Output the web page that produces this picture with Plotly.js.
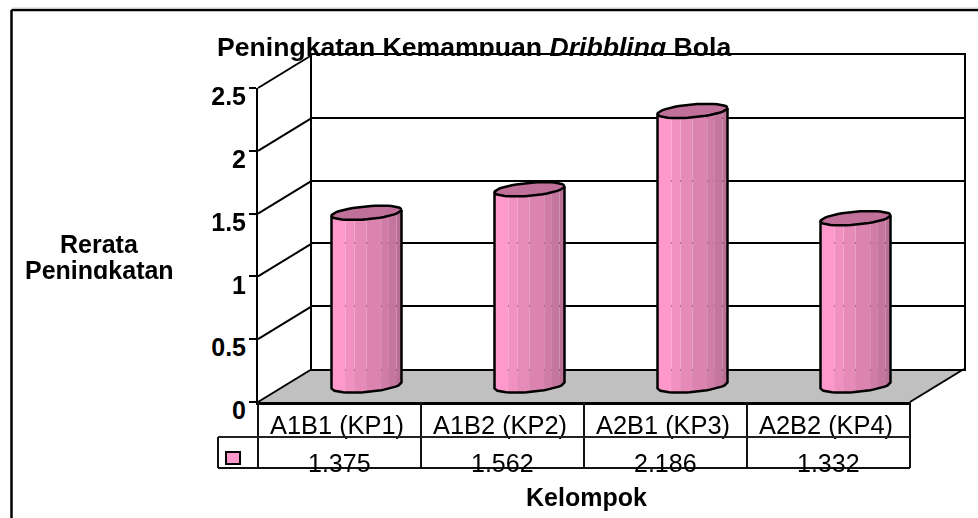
<!DOCTYPE html>
<html><head><meta charset="utf-8">
<script src="https://cdn.plot.ly/plotly-3.0.0.min.js"></script>
<style>html,body{margin:0;padding:0;background:#fff}#chart{width:978px;height:518px}</style>
</head><body><div id="chart"></div>
<script>
const categories = ["A1B1 (KP1)", "A1B2 (KP2)", "A2B1 (KP3)", "A2B2 (KP4)"];
const values = [1.375, 1.562, 2.186, 1.332];
const yTicks = [0, 0.5, 1, 1.5, 2, 2.5];
const yTickLabels = ["0", "0.5", "1", "1.5", "2", "2.5"];

const W = 978, H = 518;
const px = x => x / W, py = y => 1 - y / H;
const FONT = '"Liberation Sans", Arial, sans-serif';
// band edges across a cylinder (0 = left, 1 = right) and their colours
const bandEdges = [0, .2, .33, .5, .71, .82, .93, 1];
const bandColors = ['#FF99CC', '#F191C1', '#E68BB8', '#DB84AF', '#CF7CA6', '#C5769E', '#B96E93'];
const capColor = '#C1709A';

// pixel geometry of the pseudo-3D box
const fx0 = 258, fx1 = 910, fy0 = 402, fy1 = 88, dx = 54, dy = 33;
const pxPerUnit = (fy0 - fy1) / 2.5, pxPerCat = (fx1 - fx0) / 4;
const halfW = 35 / pxPerCat, tilt = 3 / pxPerUnit, bh = 6.5 / pxPerUnit;
const yRange = [0, 2.5], xRange = [-0.5, 3.5], belowZero = -0.15;
const idx = categories.map((_, i) => i);

function ghost(xa, ya) {
  return {type: 'scatter', x: categories, y: values, xaxis: xa, yaxis: ya, mode: 'markers', opacity: 0, hoverinfo: 'skip', showlegend: false};
}
const traces = [ghost('x', 'y')];

// shaded cylinder bodies
bandColors.forEach((color, k) => {
  const uL = 2 * bandEdges[k] - 1, uR = 2 * bandEdges[k + 1] - 1, uM = (uL + uR) / 2;
  traces.push({
    type: 'bar', x: idx, y: values, base: values.map(() => tilt * uM),
    xaxis: 'x2', yaxis: 'y2', width: (uR - uL) * halfW, offset: uL * halfW,
    marker: {color: color, line: {width: 0}}, cliponaxis: false, hoverinfo: 'skip', showlegend: false
  });
  // lower rounded end of each band
  const xs = [], ys = [];
  values.forEach((v, i) => {
    let first = null;
    for (let s = 0; s <= 8; s++) {
      const u = uL + (uR - uL) * s / 8;
      const yy = tilt * u - bh * Math.sqrt(Math.max(0, 1 - u * u));
      if (s === 0) first = yy;
      xs.push(i + u * halfW);
      ys.push(yy);
    }
    xs.push(i + uR * halfW, i + uL * halfW, i + uL * halfW, null);
    ys.push(tilt + bh, tilt + bh, first, null);
  });
  traces.push({type: 'scatter', mode: 'lines', x: xs, y: ys, xaxis: 'x2', yaxis: 'y2', fill: 'toself', fillcolor: color, line: {width: 0}, cliponaxis: false, hoverinfo: 'skip', showlegend: false});
});
// tops and outlines
const capX = [], capY = [], outX = [], outY = [];
values.forEach((v, i) => {
  for (let s = 0; s <= 48; s++) {
    const t = 2 * Math.PI * s / 48;
    capX.push(i + halfW * Math.cos(t));
    capY.push(v + tilt * Math.cos(t) + bh * Math.sin(t));
  }
  capX.push(null); capY.push(null);
  outX.push(i - halfW); outY.push(v - tilt);
  for (let s = 0; s <= 24; s++) {
    const u = -1 + 2 * s / 24;
    outX.push(i + u * halfW);
    outY.push(tilt * u - bh * Math.sqrt(1 - u * u));
  }
  outX.push(i + halfW, null); outY.push(v + tilt, null);
});
traces.push({type: 'scatter', mode: 'lines', x: outX, y: outY, xaxis: 'x2', yaxis: 'y2', line: {color: '#000', width: 2.5}, cliponaxis: false, hoverinfo: 'skip', showlegend: false});
traces.push({type: 'scatter', mode: 'lines', x: capX, y: capY, xaxis: 'x2', yaxis: 'y2', fill: 'toself', fillcolor: capColor, line: {color: '#000', width: 2.5}, cliponaxis: false, hoverinfo: 'skip', showlegend: false});
// invisible traces so the front and label axes are drawn
traces.push(ghost('x3', 'y3'), ghost('x4', 'y3'), ghost('x3', 'y4'), ghost('x5', 'y3'));

function L(x0, y0, x1, y1, w, c) {
  return {type: 'line', xref: 'paper', yref: 'paper', x0: px(x0), y0: py(y0), x1: px(x1), y1: py(y1), line: {color: c || '#000', width: w || 2}};
}
const shapes = [];
// floor
shapes.push({type: 'path', xref: 'paper', yref: 'paper', layer: 'below', line: {width: 0},
  fillcolor: '#C0C0C0',
  path: `M${px(fx0)},${py(fy0)} L${px(fx0 + dx)},${py(fy0 - dy)} L${px(fx1 + dx)},${py(fy0 - dy)} L${px(fx1)},${py(fy0)} Z`});
// side wall diagonals
yTicks.forEach(t => {
  const y = fy0 - t * pxPerUnit;
  shapes.push(Object.assign(L(fx0, y, fx0 + dx, y - dy, 2), {layer: 'below'}));
});
shapes.push(L(fx1, fy0, fx1 + dx, fy0 - dy, 2));
// outer frame
shapes.push(L(11.5, 10, 978, 10, 2.5), L(11.5, 10, 11.5, 518, 2.5), L(12, 8, 978, 8, 1, '#D0D0D0'));
// data table
const cols = [0, 1, 2, 3, 4].map(i => fx0 + i * pxPerCat);
cols.forEach(x => shapes.push(L(x, fy0, x, 468, 2, '#111')));
shapes.push(L(218, 437, fx1, 437, 2, '#222'), L(218, 468, fx1, 468, 2, '#111'), L(218, 437, 218, 468, 2, '#111'));
shapes.push({type: 'rect', xref: 'paper', yref: 'paper', x0: px(226), x1: px(240), y0: py(452), y1: py(464), fillcolor: '#FF99CC', line: {color: '#000', width: 2}});

const annotations = values.map((v, i) => ({
  text: v.toFixed(3), xref: 'x3', x: categories[i], yref: 'paper', y: py(463), showarrow: false,
  xanchor: 'center', yanchor: 'middle', font: {family: FONT, size: 25, color: '#000'}
}));
const axisNote = {xref: 'paper', yref: 'paper', showarrow: false, xanchor: 'center', yanchor: 'middle', font: {family: FONT, size: 25, color: '#000'}};
annotations.push(Object.assign({text: '<b>Rerata</b>', x: px(99.5), y: py(244)}, axisNote));
annotations.push(Object.assign({text: '<b>Peningkatan</b>', x: px(99.5), y: py(270)}, axisNote));

const hidden = {visible: false, fixedrange: true};
const frontFont = {family: FONT, size: 25, color: '#000'};
const layout = {
  width: W, height: H, margin: {l: 0, r: 0, t: 0, b: 0}, showlegend: false,
  paper_bgcolor: '#fff', plot_bgcolor: 'rgba(0,0,0,0)', barmode: 'overlay',
  title: {text: '<b>Peningkatan Kemampuan <i>Dribbling</i> Bola</b>', x: px(217), xanchor: 'left', y: py(47), yanchor: 'middle',
    font: {family: FONT, size: 26.6, color: '#000'}},
  // back wall
  xaxis: {domain: [px(fx0 + dx), px(fx1 + dx)], range: xRange, type: 'category', categoryarray: categories, anchor: 'y', showline: true, mirror: true, linecolor: '#000', linewidth: 2, showticklabels: false, ticks: '', showgrid: false, zeroline: false},
  yaxis: {domain: [py(fy0 - dy), py(fy1 - dy)], range: yRange, anchor: 'x', showline: true, mirror: true, linecolor: '#000', linewidth: 2, showticklabels: false, ticks: '', tickvals: yTicks, showgrid: true, gridcolor: '#000', gridwidth: 2, zeroline: false},
  // cylinders, halfway into the box; the range reaches below zero for their rounded ends
  xaxis2: Object.assign({domain: [px(fx0 + dx / 2), px(fx1 + dx / 2)], range: xRange, anchor: 'y2'}, hidden),
  yaxis2: Object.assign({domain: [py(fy0 - dy / 2 - belowZero * pxPerUnit), py(fy1 - dy / 2)], range: [belowZero, yRange[1]], anchor: 'x2'}, hidden),
  // front axis lines and ticks
  xaxis3: {domain: [px(fx0), px(fx1)], range: xRange, type: 'category', categoryarray: categories, anchor: 'y3', showline: true, linecolor: '#000', linewidth: 3, ticks: '', showticklabels: false, showgrid: false, zeroline: false},
  yaxis3: {domain: [py(fy0), py(fy1)], range: yRange, anchor: 'x3', showline: true, linecolor: '#000', linewidth: 2, ticks: 'outside', ticklen: 7, tickwidth: 2, tickcolor: '#000', showticklabels: false, showgrid: false, zeroline: false, tickvals: yTicks},
  // label axes, nudged to where the reference puts its labels
  xaxis4: {domain: [px(fx0 - 2.5), px(fx1 - 2.5)], range: xRange, type: 'category', categoryarray: categories, anchor: 'y3', showline: false, ticks: '', showgrid: false, zeroline: false, ticklabelstandoff: 6, tickfont: {family: FONT, size: 25.4, color: '#000'}},
  yaxis4: {domain: [py(fy0 + 8.5), py(fy1 + 8.5)], range: yRange, anchor: 'x3', showline: false, ticks: 'outside', ticklen: 6, tickcolor: 'rgba(0,0,0,0)', showgrid: false, zeroline: false, tickvals: yTicks, ticktext: yTickLabels.map(s => '<b>' + s + '</b>'), tickfont: frontFont},
  xaxis5: {domain: [px(fx0 + 2.5), px(fx1 + 2.5)], range: xRange, type: 'category', categoryarray: categories, anchor: 'y3', showline: false, ticks: '', showticklabels: false, showgrid: false, zeroline: false,
    title: {text: '<b>Kelompok</b>', standoff: 86, font: frontFont}},
  shapes: shapes, annotations: annotations
};
Plotly.newPlot('chart', traces, layout, {displayModeBar: false, staticPlot: true}).then(gd => {
  // parts of the title and of the side label are hidden in the reference
  const NS = 'http://www.w3.org/2000/svg';
  function clip(el, id, rects) {
    if (!el) return;
    const cp = document.createElementNS(NS, 'clipPath'); cp.setAttribute('id', id);
    rects.forEach(r => {
      const e = document.createElementNS(NS, 'rect');
      e.setAttribute('x', r[0]); e.setAttribute('y', r[1]); e.setAttribute('width', r[2]); e.setAttribute('height', r[3]);
      cp.appendChild(e);
    });
    el.ownerSVGElement.appendChild(cp);
    el.setAttribute('clip-path', 'url(#' + id + ')');
  }
  clip(gd.querySelector('.g-gtitle'), 'titleClip', [[0, 0, W, 56], [0, 0, 311, H]]);
  const notes = gd.querySelectorAll('.annotation');
  clip(notes[notes.length - 1], 'sideClip', [[0, 0, W, 279]]);
});
</script></body></html>
